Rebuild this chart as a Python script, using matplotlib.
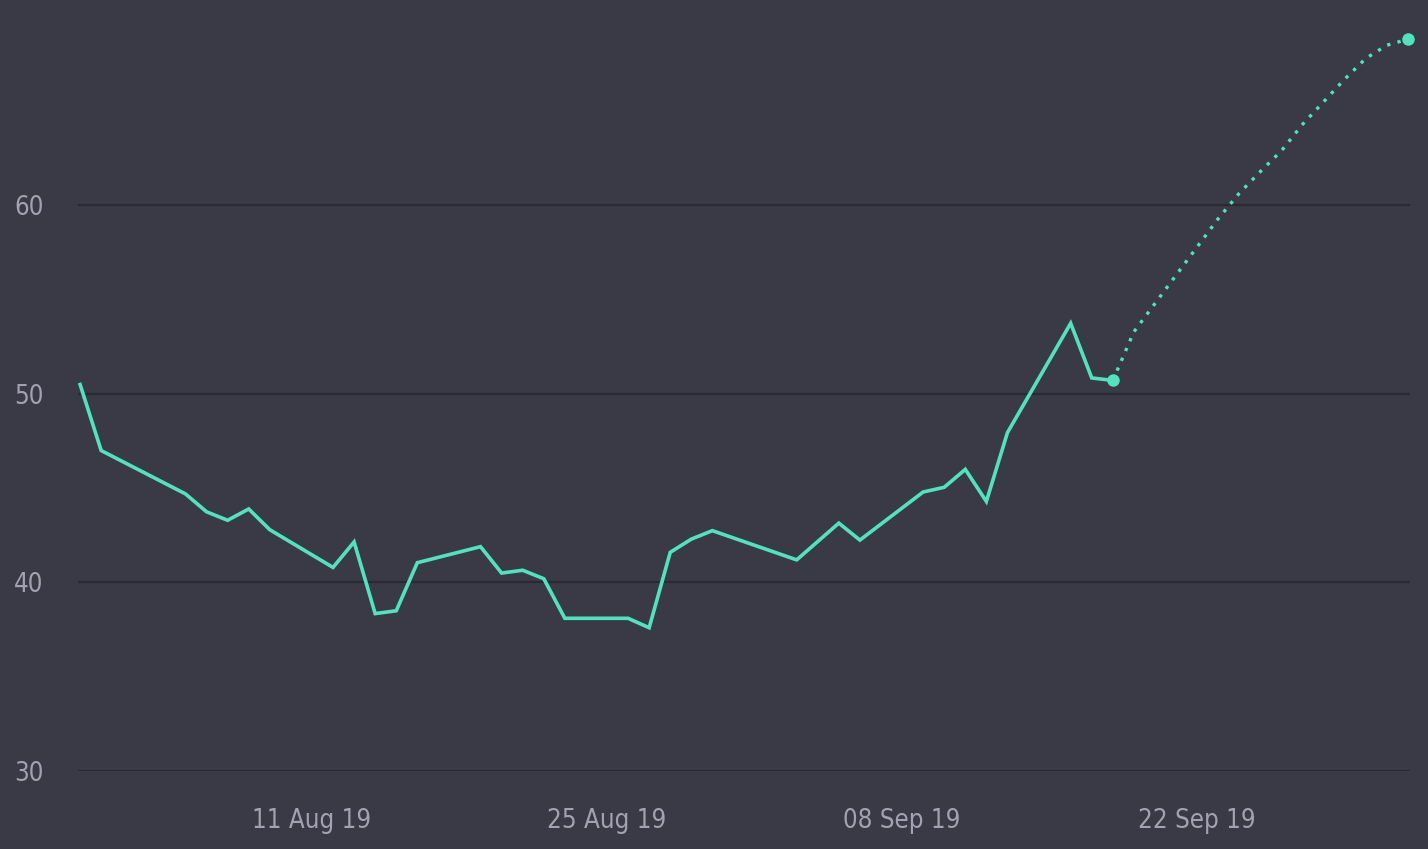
import numpy as np
import matplotlib
matplotlib.use("Agg")
import matplotlib.pyplot as plt
import matplotlib.dates as mdates
from datetime import datetime

plt.rcParams['font.family'] = ['DejaVu Sans']
plt.rcParams['font.stretch'] = 'condensed'

# observed values (trading days only)
obsDates = ["2019-07-31", "2019-08-01", "2019-08-05", "2019-08-06", "2019-08-07",
            "2019-08-08", "2019-08-09", "2019-08-12", "2019-08-13", "2019-08-14",
            "2019-08-15", "2019-08-16", "2019-08-19", "2019-08-20", "2019-08-21",
            "2019-08-22", "2019-08-23", "2019-08-26", "2019-08-27", "2019-08-28",
            "2019-08-29", "2019-08-30", "2019-09-03", "2019-09-05", "2019-09-06",
            "2019-09-09", "2019-09-10", "2019-09-11", "2019-09-12", "2019-09-13",
            "2019-09-16", "2019-09-17", "2019-09-18"]
obsValues = [50.5, 47.0, 44.7, 43.75, 43.3,
             43.9, 42.8, 40.8, 42.15, 38.35,
             38.5, 41.05, 41.9, 40.5, 40.65,
             40.2, 38.1, 38.1, 37.6, 41.6,
             42.3, 42.75, 41.2, 43.15, 42.25,
             44.8, 45.05, 46.0, 44.3, 47.95,
             53.75, 50.85, 50.72]

# forecast
fcDates = ["2019-09-18", "2019-09-19", "2019-09-20", "2019-09-21", "2019-09-22",
           "2019-09-23", "2019-09-24", "2019-09-25", "2019-09-26", "2019-09-27",
           "2019-09-28", "2019-09-29", "2019-09-30", "2019-10-01", "2019-10-02"]
fcValues = [50.72, 53.3, 54.8, 56.3, 57.8,
            59.3, 60.65, 61.8, 62.9, 64.3,
            65.5, 66.7, 67.8, 68.5, 68.82]

tickDates = ["2019-08-11", "2019-08-25", "2019-09-08", "2019-09-22"]
yTicks = [30, 40, 50, 60]

bg = "#3a3a46"
lineCol = "#50e3c0"
gridCol = "#2a2a33"
txtCol = "#a2a2b2"

toDate = lambda l: [datetime.strptime(d, "%Y-%m-%d") for d in l]
xo, xf, xt = toDate(obsDates), toDate(fcDates), toDate(tickDates)

fig = plt.figure(figsize=(14.28, 8.49), dpi=100, facecolor=bg)
ax = fig.add_axes([78 / 1428, 78 / 849, 1332 / 1428, 771 / 849])
ax.set_facecolor(bg)

ax.plot(xo, obsValues, color=lineCol, lw=2.6, solid_joinstyle="miter", zorder=3)
ax.plot(xf, fcValues, color=lineCol, lw=2.4, linestyle=(0, (1, 2.2)),
        dash_capstyle="butt", zorder=3)
ax.plot([xf[0], xf[-1]], [fcValues[0], fcValues[-1]], "o", color=lineCol,
        ms=9, mec="none", zorder=4, clip_on=False)

ax.set_xlim(mdates.date2num(xo[0]) - 0.1, mdates.date2num(xf[-1]) + 0.1)
ax.set_ylim(30, 70.9)
ax.set_yticks(yTicks)
ax.set_xticks(xt)
ax.xaxis.set_major_formatter(mdates.DateFormatter("%d %b %y"))

ax.grid(axis="y", color=gridCol, lw=1.6)
ax.set_axisbelow(True)
for s in ax.spines.values():
	s.set_visible(False)
ax.tick_params(axis="both", length=0, colors=txtCol, labelsize=18.5)
ax.tick_params(axis="x", pad=27)
ax.tick_params(axis="y", pad=25)

fig.savefig("out.png", dpi=100, facecolor=bg)
